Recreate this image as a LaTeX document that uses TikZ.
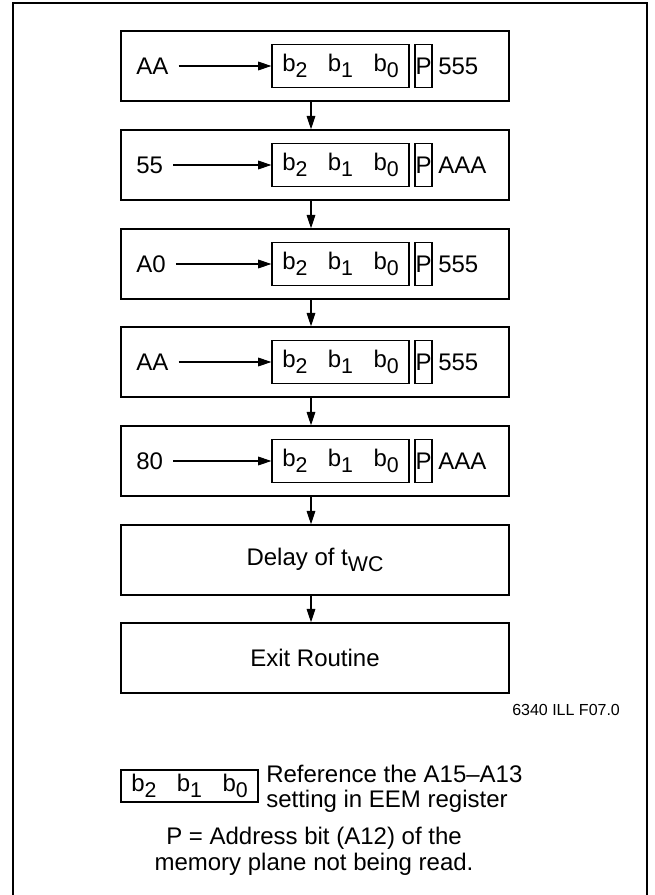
\documentclass[tikz,border=0pt]{standalone}
\usepackage{fontspec}
\setmainfont{Liberation Sans}
\usetikzlibrary{arrows.meta}
\newcommand{\lowsub}[1]{\raisebox{-4.5pt}{\fontsize{16}{16}\selectfont #1}}
\newcommand{\bitrow}{b\lowsub{2}\hspace{0.85em}b\lowsub{1}\hspace{0.85em}b\lowsub{0}}

\begin{document}
\begin{tikzpicture}[x=0.75pt,y=-0.75pt,
    font=\fontsize{18}{19}\selectfont,
    >={Triangle[length=10pt,width=6.5pt]},
    stepbox/.style={draw, line width=1.1pt, minimum width=291pt, minimum height=52.5pt, inner sep=0pt},
    bitbox/.style={draw, line width=0.8pt, minimum width=102.75pt, minimum height=32.25pt, inner sep=0pt},
    pbox/.style={draw, line width=0.8pt, minimum width=12.75pt, minimum height=32.25pt, inner sep=0pt},
    tag/.style={anchor=west, inner sep=0pt},
    flow/.style={->, line width=0.8pt}]
    \useasboundingbox (0,0) rectangle (654,895);
    \draw[line width=1.5pt] (13,900) -- (13,3) -- (647,3) -- (647,900);
    % AA
    \node[stepbox] (s1) at (315,66) {};
    \node[tag] (v1) at (136,66) {AA};
    \node[bitbox] (b1) at (340.5,66) {\bitrow};
    \node[pbox] (p1) at (423.5,66) {P};
    \node[tag] (a1) at (438,66) {555};
    \draw[flow, shorten <=7.5pt] (v1) -- (b1);
    % 55
    \node[stepbox] (s2) at (315,165) {};
    \node[tag] (v2) at (136,165) {55};
    \node[bitbox] (b2) at (340.5,165) {\bitrow};
    \node[pbox] (p2) at (423.5,165) {P};
    \node[tag] (a2) at (438,165) {AAA};
    \draw[flow, shorten <=7.5pt] (v2) -- (b2);
    % A0
    \node[stepbox] (s3) at (315,264) {};
    \node[tag] (v3) at (136,264) {A0};
    \node[bitbox] (b3) at (340.5,264) {\bitrow};
    \node[pbox] (p3) at (423.5,264) {P};
    \node[tag] (a3) at (438,264) {555};
    \draw[flow, shorten <=7.5pt] (v3) -- (b3);
    % AA
    \node[stepbox] (s4) at (315,362) {};
    \node[tag] (v4) at (136,362) {AA};
    \node[bitbox] (b4) at (340.5,362) {\bitrow};
    \node[pbox] (p4) at (423.5,362) {P};
    \node[tag] (a4) at (438,362) {555};
    \draw[flow, shorten <=7.5pt] (v4) -- (b4);
    % 80
    \node[stepbox] (s5) at (315,461) {};
    \node[tag] (v5) at (136,461) {80};
    \node[bitbox] (b5) at (340.5,461) {\bitrow};
    \node[pbox] (p5) at (423.5,461) {P};
    \node[tag] (a5) at (438,461) {AAA};
    \draw[flow, shorten <=7.5pt] (v5) -- (b5);
    % delay and exit
    \node[stepbox] (s6) at (315,560) {Delay of t\lowsub{WC}};
    \node[stepbox] (s7) at (315,658) {Exit Routine};
    \draw[flow] ([xshift=-3pt]s1.south) -- ([xshift=-3pt]s2.north);
    \draw[flow] ([xshift=-3pt]s2.south) -- ([xshift=-3pt]s3.north);
    \draw[flow] ([xshift=-3pt]s3.south) -- ([xshift=-3pt]s4.north);
    \draw[flow] ([xshift=-3pt]s4.south) -- ([xshift=-3pt]s5.north);
    \draw[flow] ([xshift=-3pt]s5.south) -- ([xshift=-3pt]s6.north);
    \draw[flow] ([xshift=-3pt]s6.south) -- ([xshift=-3pt]s7.north);
    \node[tag, font=\fontsize{12}{12}\selectfont] (fig) at (512,710) {6340 ILL F07.0};
    % legend
    \node[bitbox, minimum height=24pt] (lb) at (189.5,786) {\bitrow};
    \node[anchor=north west, align=left, inner sep=0pt, font=\fontsize{18}{18.5}\selectfont] (ref) at (266,765) {Reference the A15--A13\\setting in EEM register};
    \node[align=center, inner sep=0pt, font=\fontsize{18}{19.5}\selectfont] (pnote) at (314,851) {P = Address bit (A12) of the\\memory plane not being read.};
\end{tikzpicture}
\end{document}
